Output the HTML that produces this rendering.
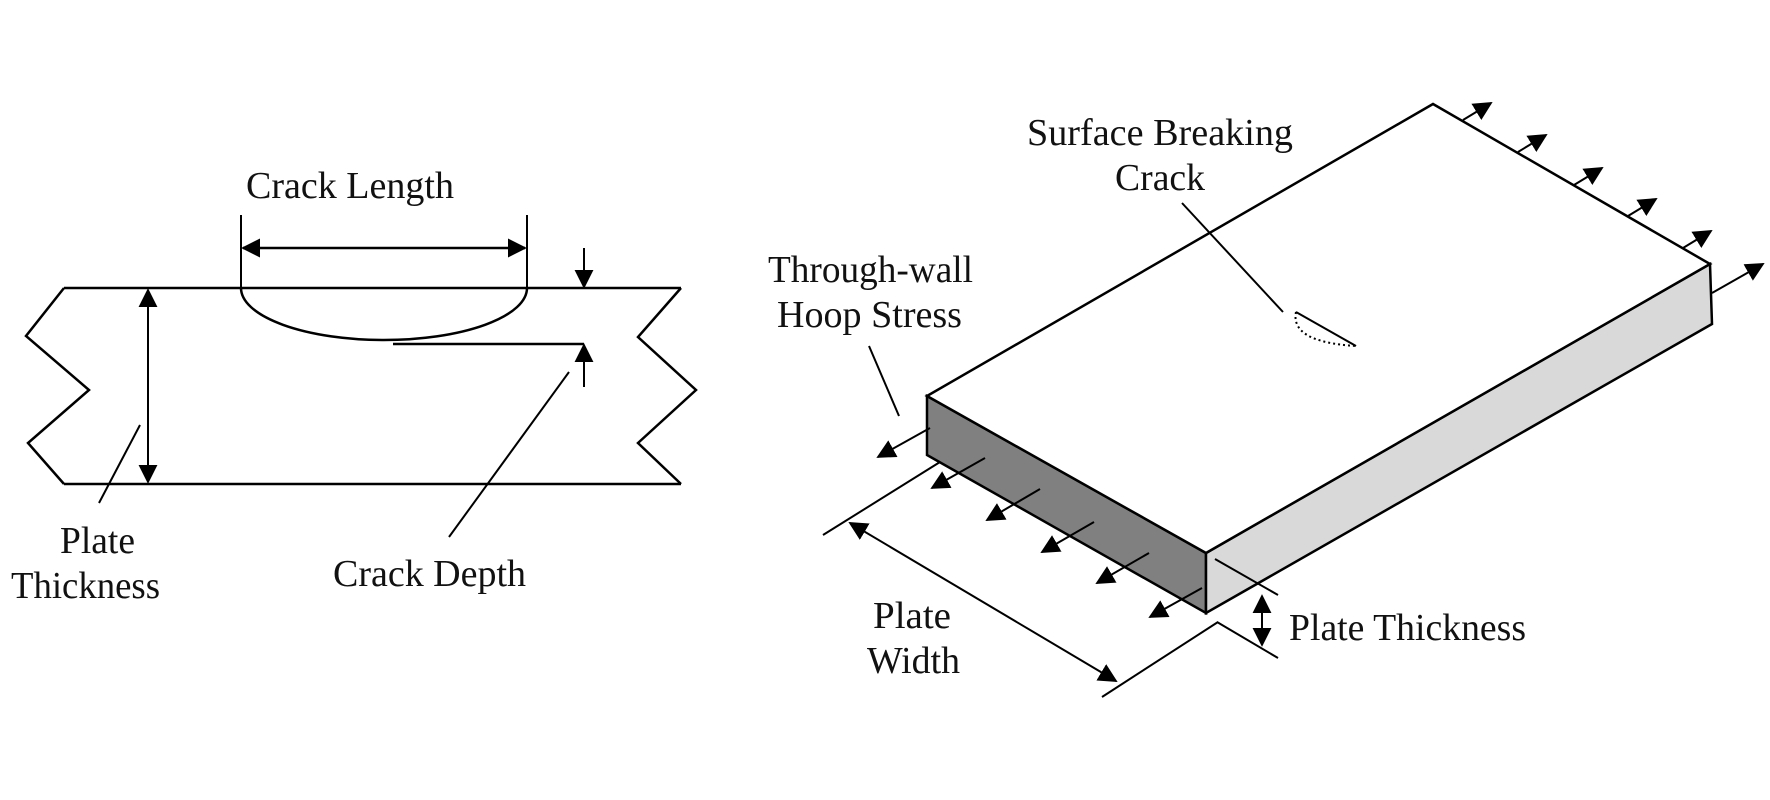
<!DOCTYPE html>
<html><head><meta charset="utf-8"><style>
html,body{margin:0;padding:0;background:#fff;}
svg{display:block;}
text{font-family:"Liberation Serif",serif;font-size:38px;fill:#111;}
</style></head><body>
<svg width="1770" height="800" viewBox="0 0 1770 800" xmlns="http://www.w3.org/2000/svg">
<defs>
<marker id="ah" viewBox="0 0 10 10" refX="9" refY="5" markerWidth="19" markerHeight="19" markerUnits="userSpaceOnUse" orient="auto-start-reverse">
<path d="M0,0 L10,5 L0,10 z" fill="#000"/>
</marker>
</defs>
<g stroke="#000" stroke-width="2.5" fill="none" stroke-linejoin="miter">
<line x1="64" y1="288" x2="681" y2="288"/>
<line x1="64" y1="484" x2="681" y2="484"/>
<polyline points="64,288 26,336 89,390 28,443 64,484"/>
<polyline points="681,288 638,337 696,390 638,443 681,484"/>
<line x1="241" y1="215" x2="241" y2="288" stroke-width="2"/>
<line x1="527" y1="215" x2="527" y2="288" stroke-width="2"/>
<line x1="243" y1="248" x2="525" y2="248" marker-start="url(#ah)" marker-end="url(#ah)"/>
<path d="M241,288 A143,52 0 0 0 527,288"/>
<line x1="393" y1="344" x2="584" y2="344"/>
<line x1="584" y1="387" x2="584" y2="345" stroke-width="2" marker-end="url(#ah)"/>
<line x1="584" y1="248" x2="584" y2="287" stroke-width="2" marker-end="url(#ah)"/>
<line x1="148" y1="290" x2="148" y2="482" stroke-width="2" marker-start="url(#ah)" marker-end="url(#ah)"/>
<line x1="140" y1="425" x2="99" y2="503" stroke-width="2"/>
<line x1="569" y1="372" x2="449" y2="537" stroke-width="2"/>

<polygon points="927,396 1206,553 1206,613 927,455" fill="#808080"/>
<polygon points="1206,553 1710,264 1712,324 1206,613" fill="#d9d9d9"/>
<polygon points="927,396 1433,104 1710,264 1206,553" fill="#fff"/>
<g stroke-width="2">
<line x1="1463" y1="120" x2="1491" y2="103" marker-end="url(#ah)"/>
<line x1="1518" y1="152" x2="1546" y2="135" marker-end="url(#ah)"/>
<line x1="1574" y1="185" x2="1602" y2="168" marker-end="url(#ah)"/>
<line x1="1628" y1="216" x2="1656" y2="199" marker-end="url(#ah)"/>
<line x1="1683" y1="248" x2="1711" y2="231" marker-end="url(#ah)"/>
<line x1="1712" y1="293" x2="1763" y2="264" marker-end="url(#ah)"/>
<line x1="930" y1="428" x2="878" y2="457" marker-end="url(#ah)"/>
<line x1="985" y1="458" x2="932" y2="488" marker-end="url(#ah)"/>
<line x1="1040" y1="489" x2="987" y2="520" marker-end="url(#ah)"/>
<line x1="1094" y1="522" x2="1042" y2="552" marker-end="url(#ah)"/>
<line x1="1149" y1="553" x2="1097" y2="583" marker-end="url(#ah)"/>
<line x1="1202" y1="588" x2="1150" y2="617" marker-end="url(#ah)"/>
<line x1="869" y1="346" x2="899" y2="416"/>
<line x1="1182" y1="203" x2="1283" y2="312"/>
<line x1="823" y1="535" x2="940" y2="462"/>
<line x1="1102" y1="697" x2="1218" y2="622"/>
<line x1="850" y1="523" x2="1116" y2="681" marker-start="url(#ah)" marker-end="url(#ah)"/>
<line x1="1215" y1="559" x2="1278" y2="595"/>
<line x1="1217" y1="622" x2="1278" y2="658"/>
<line x1="1262" y1="596" x2="1262" y2="645" marker-start="url(#ah)" marker-end="url(#ah)"/>
<line x1="1296" y1="312" x2="1356" y2="346"/>
<path d="M1296,312 Q1290,342 1356,346" stroke-dasharray="2,3"/>
</g>
</g>

<text x="246" y="198" textLength="208" lengthAdjust="spacingAndGlyphs">Crack Length</text>
<text x="60" y="553" textLength="75" lengthAdjust="spacingAndGlyphs">Plate</text>
<text x="11" y="598" textLength="149" lengthAdjust="spacingAndGlyphs">Thickness</text>
<text x="333" y="586" textLength="193" lengthAdjust="spacingAndGlyphs">Crack Depth</text>
<text x="1027" y="145" textLength="266" lengthAdjust="spacingAndGlyphs">Surface Breaking</text>
<text x="1115" y="190" textLength="90" lengthAdjust="spacingAndGlyphs">Crack</text>
<text x="768" y="282" textLength="205" lengthAdjust="spacingAndGlyphs">Through-wall</text>
<text x="777" y="327" textLength="185" lengthAdjust="spacingAndGlyphs">Hoop Stress</text>
<text x="873" y="628" textLength="78" lengthAdjust="spacingAndGlyphs">Plate</text>
<text x="867" y="673" textLength="93" lengthAdjust="spacingAndGlyphs">Width</text>
<text x="1289" y="640" textLength="237" lengthAdjust="spacingAndGlyphs">Plate Thickness</text>
</svg>
</body></html>
